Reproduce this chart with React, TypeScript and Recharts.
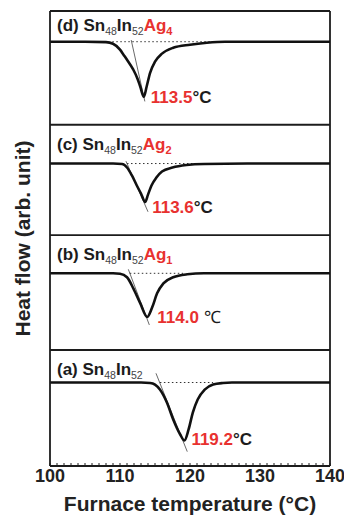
import { LineChart, Line, XAxis, YAxis, ReferenceLine, ReferenceDot } from "recharts";

// DSC heating curves, heat flow in arb. units (0 = baseline)
const tempsA = [100, 105, 110, 113, 114.3, 115, 115.7, 116.7, 117.6, 118.6, 119.2, 119.8, 120.4, 121.1, 122.1, 123.3, 124.7, 126, 130, 135, 140];
const flowA = [0, 0, 0, 0, -0.004, -0.018, -0.062, -0.176, -0.325, -0.457, -0.51, -0.413, -0.264, -0.149, -0.062, -0.018, -0.004, 0, 0, 0, 0];

const tempsB = [100, 105, 109, 110, 111, 111.9, 112.9, 113.9, 114.6, 115.3, 116.2, 117.6, 119.6, 122, 130, 140];
const flowB = [0, 0, 0, -0.004, -0.035, -0.132, -0.264, -0.384, -0.299, -0.176, -0.088, -0.035, -0.009, 0, 0, 0];

const tempsC = [100, 105, 109, 110.3, 111, 111.7, 112.4, 113, 113.6, 114, 114.5, 115.2, 116, 117.5, 119.5, 122, 130, 140];
const flowC = [0, 0, 0, -0.004, -0.035, -0.105, -0.193, -0.264, -0.338, -0.273, -0.193, -0.123, -0.07, -0.035, -0.013, -0.004, 0, 0];

const tempsD = [100, 105, 108, 109, 110, 110.5, 111, 111.9, 112.5, 112.9, 113.4, 113.8, 114.3, 115, 116, 117.6, 120, 122.4, 125, 130, 135, 140];
const flowD = [0, 0, -0.004, -0.018, -0.07, -0.114, -0.158, -0.246, -0.325, -0.396, -0.484, -0.396, -0.273, -0.176, -0.105, -0.053, -0.026, -0.009, 0, 0, 0, 0];

// stacking offset of each curve (a..d) and the panel dividers
const offsets = [0.734, 1.694, 2.659, 3.73];
const panelTops = [1.02, 2.03, 3.0, 4.0];

const panelTags = ["(a)", "(b)", "(c)", "(d)"];
const agSubs = ["", "1", "2", "4"];
const peakLabels = ["119.2", "114.0", "113.6", "113.5"];
const peakUnits = ["°C", "℃", "°C", "°C"];

// onset tangent lines [t1, y1, t2, y2] and dotted extrapolated baselines [t1, t2]
const tangents = [
  [115.14, 0.815, 119.61, 0.126],
  [111.19, 1.729, 114.19, 1.24],
  [110.85, 2.68, 114.0, 2.235],
  [111.6, 3.745, 113.55, 3.205],
];
const dotted = [
  [115.7, 123.3],
  [111.4, 119],
  [111, 121.4],
  [108.9, 123.3],
];

const xLabels = [100, 110, 120, 130, 140];
const xMinor = Array.from({ length: 41 }, (_, i) => 100 + i);
const yMinor = Array.from({ length: 134 }, (_, i) => Math.round(i * 3) / 100);

const temps = [tempsA, tempsB, tempsC, tempsD];
const flows = [flowA, flowB, flowC, flowD];

const series = temps.map((ts, k) => ts.map((t, i) => ({ t, v: offsets[k] + flows[k][i] })));
const peaks = flows.map((f, k) => {
  const i = f.indexOf(Math.min(...f));
  return { t: temps[k][i], v: offsets[k] + f[i] };
});

const FONT = "'Liberation Sans', Arial, Helvetica, sans-serif";
const RED = "#e8312f";
const INK = "#1c1c1c";

const peakDx = [7, 10, 7, 7];
const peakDy = [4, 6, 11, 6];

const sampleLabel = (k: number) => (props: any) => {
  const { x, y } = props.viewBox;
  return (
    <text x={x + 7} y={y + (k === 3 ? 20 : 25)} fontFamily={FONT} fontSize={17} fontWeight="bold" fill={INK}>
      <tspan>{panelTags[k]} Sn</tspan>
      <tspan fontSize={10.5} fontWeight="normal" fill="#444" dy={4}>48</tspan>
      <tspan dy={-4}>In</tspan>
      <tspan fontSize={10.5} fontWeight="normal" fill="#444" dy={4}>52</tspan>
      {agSubs[k] ? (
        <>
          <tspan fill={RED} dy={-4}>Ag</tspan>
          <tspan fill={RED} fontSize={11} dy={4}>{agSubs[k]}</tspan>
        </>
      ) : null}
    </text>
  );
};

const peakLabel = (k: number) => (props: any) => {
  const { x, y } = props.viewBox;
  return (
    <text x={x + peakDx[k]} y={y + peakDy[k]} fontFamily={FONT} fontSize={17} fontWeight="bold">
      <tspan fill={RED}>{peakLabels[k]}</tspan>
      <tspan fill={INK} fontWeight={k === 1 ? "normal" : "bold"}>{k === 1 ? " " + peakUnits[k] : peakUnits[k]}</tspan>
    </text>
  );
};

const XTick = (props: any) => {
  const { x, y, payload } = props;
  if (!xLabels.includes(payload.value)) return <g />;
  return (
    <text x={x} y={y} dy={19} textAnchor="middle" fontFamily={FONT} fontSize={18} fontWeight="bold" fill="#222">
      {payload.value}
    </text>
  );
};

export default function App() {
  return (
    <div style={{ position: "absolute", left: 0, top: 0, background: "#fff" }}>
      <LineChart width={344} height={516} margin={{ top: 11, right: 14, bottom: 0, left: 0 }}>
        <XAxis
          dataKey="t"
          type="number"
          domain={[100, 140]}
          allowDataOverflow
          ticks={xMinor}
          interval={0}
          tickSize={-3}
          tickMargin={0}
          tick={XTick}
          height={50}
          axisLine={{ stroke: INK, strokeWidth: 1.8 }}
          tickLine={{ stroke: INK, strokeWidth: 1 }}
          label={{
            content: (p: any) => (
              <text
                x={p.viewBox.x + p.viewBox.width / 2}
                y={p.viewBox.y + 45}
                textAnchor="middle"
                fontFamily={FONT}
                fontSize={21}
                fontWeight="bold"
                fill="#222"
              >
                Furnace temperature (°C)
              </text>
            ),
          }}
        />
        <YAxis
          type="number"
          domain={[0, 4]}
          allowDataOverflow
          ticks={yMinor}
          interval={0}
          tickSize={-2}
          tick={false}
          width={50}
          axisLine={{ stroke: INK, strokeWidth: 1.8 }}
          tickLine={{ stroke: INK, strokeWidth: 0.8 }}
          label={{
            content: (p: any) => (
              <text
                transform={`translate(${p.viewBox.x + 22}, ${p.viewBox.y + p.viewBox.height / 2}) rotate(-90)`}
                textAnchor="middle"
                dominantBaseline="central"
                fontFamily={FONT}
                fontSize={21}
                fontWeight="bold"
                fill="#222"
              >
                Heat flow (arb. unit)
              </text>
            ),
          }}
        />
        {panelTops.map((v) => (
          <ReferenceLine key={"p" + v} y={v} stroke={INK} strokeWidth={1.8} />
        ))}
        <ReferenceLine x={140} stroke={INK} strokeWidth={1.8} />
        {dotted.map((d, k) => (
          <ReferenceLine
            key={"d" + k}
            segment={[
              { x: d[0], y: offsets[k] },
              { x: d[1], y: offsets[k] },
            ]}
            stroke="#333"
            strokeWidth={1}
            strokeDasharray="1.5 2.5"
          />
        ))}
        {tangents.map((s, k) => (
          <ReferenceLine
            key={"t" + k}
            segment={[
              { x: s[0], y: s[1] },
              { x: s[2], y: s[3] },
            ]}
            stroke="#444"
            strokeWidth={0.8}
          />
        ))}
        {series.map((d, k) => (
          <Line
            key={"s" + k}
            data={d}
            dataKey="v"
            type="monotone"
            stroke="#111"
            strokeWidth={2.6}
            dot={false}
            activeDot={false}
            isAnimationActive={false}
          />
        ))}
        {panelTops.map((v, k) => (
          <ReferenceDot key={"l" + k} x={100} y={v} r={0} fill="none" stroke="none" label={sampleLabel(k)} />
        ))}
        {peaks.map((p, k) => (
          <ReferenceDot key={"k" + k} x={p.t} y={p.v} r={0} fill="none" stroke="none" label={peakLabel(k)} />
        ))}
      </LineChart>
    </div>
  );
}
